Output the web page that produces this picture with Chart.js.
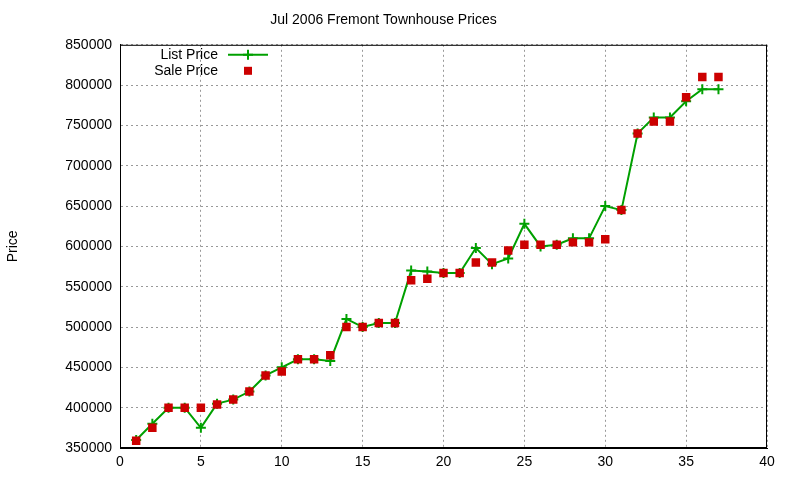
<!DOCTYPE html>
<html>
<head>
<meta charset="utf-8">
<script src="https://cdn.jsdelivr.net/npm/chart.js@4"></script>
<style>
  html, body { margin: 0; background: #fff; }
  #wrap { width: 800px; height: 480px; }
</style>
</head>
<body>
<div id="wrap"><canvas id="c"></canvas></div>
<script>
// values
const houseIndex = [1, 2, 3, 4, 5, 6, 7, 8, 9, 10, 11, 12, 13, 14, 15, 16, 17, 18, 19,
  20, 21, 22, 23, 24, 25, 26, 27, 28, 29, 30, 31, 32, 33, 34, 35, 36, 37];
const listPrice = [360000, 380000, 400000, 400000, 375000, 405000, 410000, 420000, 440000,
  450000, 460000, 460000, 458000, 510000, 500000, 505000, 505000, 570000, 569000,
  567000, 567000, 598000, 578000, 585000, 628000, 600000, 602000, 610000, 610000,
  650000, 645000, 740000, 760000, 760000, 780000, 795000, 795000];
const salePrice = [359000, 375000, 400000, 400000, 400000, 404000, 410000, 420000, 440000,
  445000, 460000, 460000, 465000, 500000, 500000, 505000, 505000, 558000, 560000,
  567000, 567000, 580000, 580000, 595000, 602000, 602000, 602000, 605000, 605000,
  609000, 645000, 740000, 755000, 755000, 785000, 810000, 810000];

const font = "'Liberation Sans', Arial, sans-serif";
Chart.defaults.font.family = font;
Chart.defaults.color = "#000";

const toXY = (vals) => vals.map((v, i) => ({ x: houseIndex[i], y: v }));

// gnuplot style key: label text, then the sample to its right
const keyPlugin = {
  id: "gnuKey",
  afterDatasetsDraw(chart) {
    const ctx = chart.ctx;
    const a = chart.chartArea;
    ctx.save();
    ctx.font = "14px " + font;
    ctx.fillStyle = "#000";
    ctx.textAlign = "right";
    ctx.textBaseline = "middle";
    chart.data.datasets.forEach((ds, i) => {
      const y = a.top + 10 + i * 16;
      ctx.fillText(ds.label, a.left + 98, y);
      const sx = a.left + 108, ex = a.left + 148;
      if (ds.showLine !== false) {
        ctx.strokeStyle = ds.borderColor;
        ctx.lineWidth = 2;
        ctx.beginPath(); ctx.moveTo(sx, y); ctx.lineTo(ex, y); ctx.stroke();
        const mx = (sx + ex) / 2;
        ctx.beginPath(); ctx.moveTo(mx - 5, y); ctx.lineTo(mx + 5, y);
        ctx.moveTo(mx, y - 5); ctx.lineTo(mx, y + 5); ctx.stroke();
      } else {
        ctx.fillStyle = ds.backgroundColor;
        ctx.fillRect((sx + ex) / 2 - 4, y - 4, 8, 8);
        ctx.fillStyle = "#000";
      }
    });
    ctx.restore();
  }
};

new Chart(document.getElementById("c"), {
  type: "scatter",
  data: {
    datasets: [
      {
        label: "List Price",
        data: toXY(listPrice),
        order: 1,
        showLine: true,
        borderColor: "#00a000",
        backgroundColor: "#00a000",
        borderWidth: 2,
        pointStyle: "cross",
        pointRadius: 5,
        pointBorderWidth: 2,
        tension: 0
      },
      {
        label: "Sale Price",
        data: toXY(salePrice),
        order: 0,
        showLine: false,
        borderColor: "#cc0000",
        backgroundColor: "#cc0000",
        pointStyle: "rect",
        pointRadius: 6,
        pointBorderWidth: 0
      }
    ]
  },
  options: {
    responsive: true,
    maintainAspectRatio: false,
    animation: false,
    layout: { padding: { left: 0, right: 33, top: 0, bottom: 0 } },
    plugins: {
      legend: { display: false },
      tooltip: { enabled: false },
      title: {
        display: true,
        text: "Jul 2006 Fremont Townhouse Prices",
        font: { size: 14, weight: "normal" },
        color: "#000",
        padding: { top: 12, bottom: 16 }
      }
    },
    scales: {
      x: {
        type: "linear",
        min: 0, max: 40,
        ticks: { stepSize: 5, font: { size: 14 }, padding: 6 },
        grid: { color: "#999", drawTicks: false },
        border: { color: "#000", width: 1, dash: [2, 3] },
        afterFit: (s) => { s.height = 32; }
      },
      y: {
        min: 350000, max: 850000,
        ticks: { stepSize: 50000, font: { size: 14 }, padding: 8, callback: (v) => String(v) },
        grid: { color: "#999", drawTicks: false },
        border: { color: "#000", width: 1, dash: [2, 3] },
        title: { display: true, text: "Price", font: { size: 14 }, padding: { top: 5, bottom: 30 } },
        afterFit: (s) => { s.width = 120; }
      }
    }
  },
  plugins: [keyPlugin, {
    id: "frame",
    beforeDatasetsDraw(chart) {
      const a = chart.chartArea, ctx = chart.ctx;
      ctx.save();
      ctx.strokeStyle = "#000";
      ctx.lineWidth = 1;
      ctx.strokeRect(a.left + 0.5, a.top + 0.5, a.width - 1, a.height - 1);
      ctx.restore();
    }
  }]
});
</script>
</body>
</html>
